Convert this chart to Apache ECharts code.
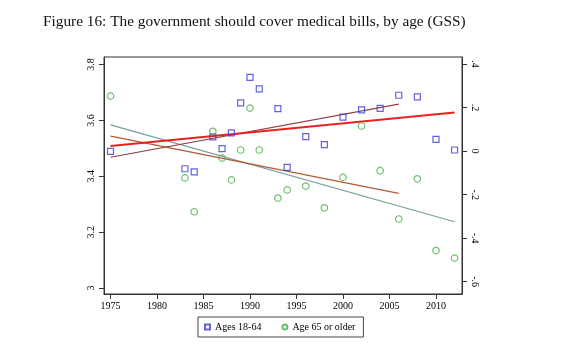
<!DOCTYPE html>
<html>
<head>
<meta charset="utf-8">
<script src="https://cdn.jsdelivr.net/npm/echarts@6/dist/echarts.min.js"></script>
<style>
html, body { margin: 0; padding: 0; background: #fff; }
#chart { width: 576px; height: 350px; }
</style>
</head>
<body>
<div id="chart"></div>
<script>
// survey years
const years = [1975, 1983, 1984, 1986, 1987, 1988, 1989, 1990, 1991, 1993, 1994, 1996, 1998, 2000, 2002, 2004, 2006, 2008, 2010, 2012];
// mean support, ages 18-64
const young = [3.489, 3.427, 3.416, 3.541, 3.499, 3.555, 3.663, 3.754, 3.713, 3.642, 3.432, 3.542, 3.513, 3.612, 3.638, 3.643, 3.690, 3.684, 3.532, 3.494];
// mean support, age 65 or older
const old = [3.687, 3.394, 3.273, 3.561, 3.465, 3.387, 3.494, 3.644, 3.494, 3.322, 3.351, 3.365, 3.287, 3.396, 3.580, 3.420, 3.247, 3.391, 3.134, 3.107];

// fitted lines: [start year, end year], [start value, end value]
const fitRedYears = [1975, 2012];
const fitRed = [3.508, 3.628];
const fitMaroonYears = [1975, 2006];
const fitMaroon = [3.468, 3.658];
const fitSiennaYears = [1975, 2006];
const fitSienna = [3.544, 3.339];
const fitTealYears = [1975, 2012];
const fitTeal = [3.584, 3.237];

const xTicks = [1975, 1980, 1985, 1990, 1995, 2000, 2005, 2010];
const leftTicks = [3, 3.2, 3.4, 3.6, 3.8];
const rightTicks = [-0.6, -0.4, -0.2, 0, 0.2, 0.4];

const serif = 'Liberation Serif';
const pair = (xs, ys) => xs.map((x, i) => [x, ys[i]]);

const chart = echarts.init(document.getElementById('chart'));

const axisLine = { show: true, onZero: false, lineStyle: { color: '#333', width: 1 } };
const axisTick = { show: true, length: 5, lineStyle: { color: '#333' } };

const fitLine = (name, xs, ys, color, width) => ({
    name,
    type: 'line',
    data: pair(xs, ys),
    symbol: 'none',
    silent: true,
    lineStyle: { color, width },
    z: 1,
});

chart.setOption({
    backgroundColor: '#fff',
    animation: false,
    title: {
        text: 'Figure 16: The government should cover medical bills, by age (GSS)',
        left: 38,
        top: 9,
        textStyle: { fontFamily: serif, fontSize: 15.3, fontWeight: 'normal', color: '#111' },
    },
    grid: {
        left: 104,
        right: 114,
        top: 57,
        bottom: 56,
        show: true,
        borderColor: '#333',
        borderWidth: 1,
        backgroundColor: '#fff',
    },
    legend: {
        left: 198,
        top: 317,
        orient: 'horizontal',
        padding: [5, 8, 5, 6],
        itemGap: 20,
        itemWidth: 5,
        itemHeight: 5,
        borderColor: '#444',
        borderWidth: 1,
        textStyle: { fontFamily: serif, fontSize: 10, color: '#000' },
        data: ['Ages 18-64', 'Age 65 or older'],
    },
    xAxis: {
        type: 'value',
        min: 1974.3,
        max: 2012.8,
        axisLine,
        axisTick: { ...axisTick, customValues: xTicks },
        axisLabel: {
            customValues: xTicks,
            fontFamily: serif,
            fontSize: 10,
            color: '#000',
            margin: 7,
            formatter: (v) => String(v),
        },
        splitLine: { show: false },
    },
    yAxis: [
        {
            type: 'value',
            position: 'left',
            min: 2.9785,
            max: 3.827,
            axisLine,
            axisTick: { ...axisTick, customValues: leftTicks },
            axisLabel: {
                customValues: leftTicks,
                rotate: 90,
                fontFamily: serif,
                fontSize: 10,
                color: '#000',
                margin: 8,
                formatter: (v) => String(+v.toFixed(1)),
            },
            splitLine: { show: false },
        },
        {
            type: 'value',
            position: 'right',
            min: -0.6565,
            max: 0.432,
            axisLine,
            axisTick: { ...axisTick, customValues: rightTicks },
            axisLabel: {
                customValues: rightTicks,
                rotate: -90,
                fontFamily: serif,
                fontSize: 10,
                color: '#000',
                margin: 8,
                formatter: (v) => String(+v.toFixed(1)).replace('0.', '.'),
            },
            splitLine: { show: false },
        },
    ],
    series: [
        fitLine('fit1', fitTealYears, fitTeal, '#7a9ea0', 1.2),
        fitLine('fit2', fitSiennaYears, fitSienna, '#b25a33', 1.2),
        fitLine('fit3', fitMaroonYears, fitMaroon, '#8f3f45', 1.2),
        fitLine('fit4', fitRedYears, fitRed, '#e8231d', 2),
        {
            name: 'Ages 18-64',
            type: 'scatter',
            data: pair(years, young),
            symbol: 'rect',
            symbolSize: 6,
            itemStyle: { color: 'rgba(0,0,0,0)', borderColor: '#3b3bd6', borderWidth: 1.2 },
            z: 3,
        },
        {
            name: 'Age 65 or older',
            type: 'scatter',
            data: pair(years, old),
            symbol: 'circle',
            symbolSize: 6.5,
            itemStyle: { color: 'rgba(0,0,0,0)', borderColor: '#47b047', borderWidth: 1.2 },
            z: 3,
        },
    ],
});
</script>
</body>
</html>
